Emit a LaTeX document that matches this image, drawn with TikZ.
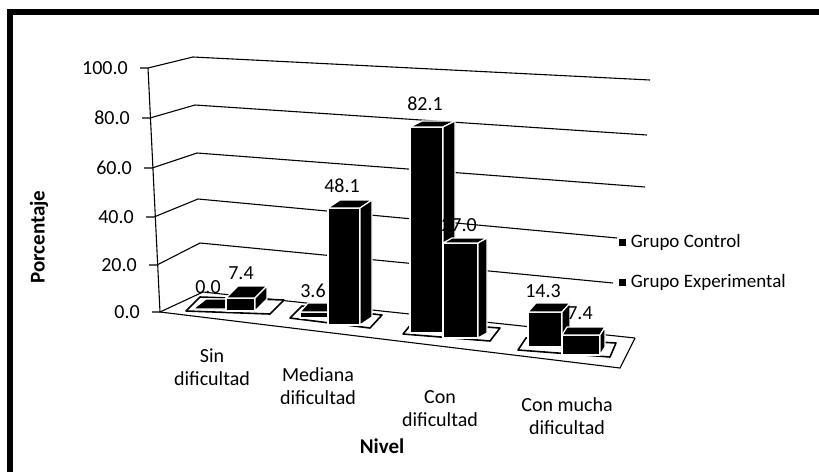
\documentclass[tikz,border=0pt]{standalone}
\usepackage{fontspec}
\setmainfont{Carlito}
\usetikzlibrary{positioning}

\begin{document}
\begin{tikzpicture}[x=1pt,y=-1pt,
  grid/.style={line width=1.1pt},
  barface/.style={fill=black, draw=white, line width=1.2pt, line join=round},
  shadowplate/.style={fill=white, draw=black, line width=1.6pt, line join=round},
  lbl/.style={font=\fontsize{20}{23}\selectfont, inner sep=0pt, align=center},
  lgd/.style={font=\fontsize{19}{22}\selectfont, inner sep=0pt},
  ttl/.style={font=\fontsize{21}{24}\selectfont\bfseries, inner sep=0pt}]
  \useasboundingbox (0,0) rectangle (819,472);
  % Frame
  \draw[line width=6pt] (10,472) -- (10,12) -- (819,12);

  % Grid walls and y labels
  \foreach \v/\xa/\ya/\xb/\yb/\xe/\ye in {100.0/148/68/193/57/650/80, 80.0/150/118/195/105/647/135,
      60.0/152/168/197/153/645/187, 40.0/154/217/198/199/617/238,
      20.0/157/265/200/243/613/283, 0.0/160/312/203/292/635/338}{
    \draw[grid] (\xa-8,\ya) -- (\xa,\ya) -- (\xb,\yb) -- (\xe,\ye);
    \node[lbl, anchor=east] (y\v) at (\xa-20,\ya) {\v};
  }
  \coordinate (axtop) at (148,68);
  \coordinate (axbot) at (160,312);
  \coordinate (flfr) at (620,368);
  \coordinate (flbk) at (635,338);
  \draw[grid] (axtop) -- (axbot) -- (flfr) -- (flbk);

  % Shadow plates
  \draw[shadowplate] (186,311) -- (270,314) -- (284,300) -- (200,297) -- cycle;
  \draw[shadowplate] (290,318) -- (370,328) -- (382,315) -- (302,306) -- cycle;
  \draw[shadowplate] (403,334) -- (490,341) -- (500,328) -- (413,322) -- cycle;
  \draw[shadowplate] (518,350) -- (610,357) -- (616,343) -- (526,338) -- cycle;

  % Bars
  \foreach \x/\b/\w/\h/\dx/\dy in {193/309/33/0/13/-10, 226/311/29/13/12/-12,
      300/318/28/6/8/-9, 328/325/32/117/12/-8,
      410/333/33/206/12/-6, 443/338/35/95/9/-5,
      528/347/34/35/8/-9, 562/355/38/20/5/-8}{
    \draw[barface] (\x,\b) rectangle (\x+\w,\b-\h);
    \draw[barface] (\x,\b-\h) -- ++(\dx,\dy) -- ++(\w,0) -- (\x+\w,\b-\h) -- cycle;
    \draw[barface] (\x+\w,\b) -- (\x+\w,\b-\h) -- ++(\dx,\dy) -- ++(0,\h) -- cycle;
  }

  % Value labels
  \node[lbl] (v1) at (208,287) {0.0};
  \node[lbl] (v2) at (241,273) {7.4};
  \node[lbl] (v3) at (313,291) {3.6};
  \node[lbl] (v4) at (342,186) {48.1};
  \node[lbl] (v5) at (425,104) {82.1};
  \node[lbl] (v6) at (459,225) {27.0};
  \node[lbl] (v7) at (543,291) {14.3};
  \node[lbl] (v8) at (580,313) {7.4};

  % Category labels
  \node[lbl] (c1) at (212,367) {Sin\\dificultad};
  \node[lbl] (c2) at (318,386) {Mediana\\dificultad};
  \node[lbl] (c3) at (440,409) {Con\\dificultad};
  \node[lbl] (c4) at (567,416) {Con mucha\\dificultad};

  % Axis titles
  \node[ttl, rotate=90] (ytitle) at (39,237) {Porcentaje};
  \node[ttl] (xtitle) at (382,446) {Nivel};

  % Legend
  \node[fill=black, minimum size=7pt, inner sep=0pt] (mkc) at (622,242) {};
  \node[lgd, right=5pt of mkc] (lgc) {Grupo Control};
  \node[fill=black, minimum size=7pt, inner sep=0pt] (mke) at (622,282) {};
  \node[lgd, right=5pt of mke] (lge) {Grupo Experimental};
\end{tikzpicture}
\end{document}
